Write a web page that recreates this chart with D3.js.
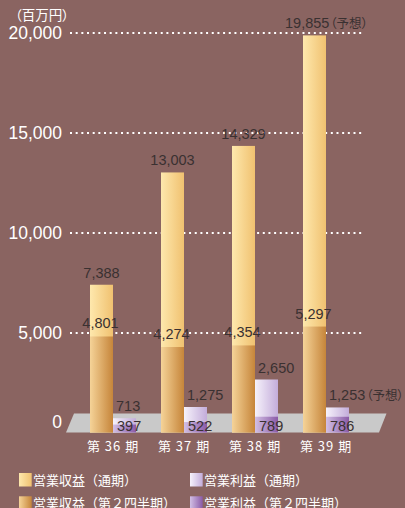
<!DOCTYPE html>
<html>
<head>
<meta charset="utf-8">
<script src="https://cdn.jsdelivr.net/npm/d3@7"></script>
<style>
  html, body { margin: 0; padding: 0; background: #8a6461; }
  svg { display: block; }
  text { font-family: "Liberation Sans", Arial, sans-serif; }
  .jp { font-family: "Noto Sans CJK JP", sans-serif; }
  .palt { font-feature-settings: "palt" 1; }
</style>
</head>
<body>
<svg id="chart" width="405" height="508"></svg>
<script>
// Fiscal periods and results (millions of yen)
const periods = ["第 36 期", "第 37 期", "第 38 期", "第 39 期"];
const revenueFull = [7388, 13003, 14329, 19855];   // 営業収益（通期）
const revenueHalf = [4801, 4274, 4354, 5297];      // 営業収益（第２四半期）
const profitFull  = [713, 1275, 2650, 1253];       // 営業利益（通期）
const profitHalf  = [397, 522, 789, 786];          // 営業利益（第２四半期）
const isForecast  = [false, false, false, true];
const yTicks = [0, 5000, 10000, 15000, 20000];
const unitLabel = "（百万円）";
const forecastNote = "（予想）";
const legendLabels = ["営業収益（通期）", "営業利益（通期）", "営業収益（第２四半期）", "営業利益（第２四半期）"];

const svg = d3.select("#chart");
const defs = svg.append("defs");

// Horizontal gradients giving the bars their cylindrical look
const gradients = {
  revFull:  ["#fee8ad", "#f0c170"],
  revHalf:  ["#f5d398", "#c6853a"],
  profFull: ["#f6f2fb", "#c3acda"],
  profHalf: ["#d2bfe4", "#8a5aa7"]
};
Object.entries(gradients).forEach(([id, [c0, c1]]) => {
  const g = defs.append("linearGradient").attr("id", id)
    .attr("x1", "0%").attr("x2", "100%").attr("y1", "0%").attr("y2", "0%");
  g.append("stop").attr("offset", "0%").attr("stop-color", c0);
  g.append("stop").attr("offset", "100%").attr("stop-color", c1);
});

const y = d3.scaleLinear().domain([0, 20000]).range([432.5, 32.5]);
const x = d3.scaleBand().domain(periods).range([77.5, 361.5]).padding(0);
const barW = 23;
const center = p => x(p) + x.bandwidth() / 2;

// Y axis with dotted gridlines
const yAxis = svg.append("g")
  .attr("transform", "translate(70,0)")
  .call(d3.axisLeft(y).tickValues(yTicks).tickFormat(d3.format(","))
    .tickSize(-293).tickPadding(8));
yAxis.select(".domain").remove();
yAxis.selectAll(".tick line")
  .attr("stroke", "#ffffff").attr("stroke-width", 2)
  .attr("stroke-dasharray", "2,3.67")
  .attr("opacity", d => d === 0 ? 0 : 1);
yAxis.selectAll(".tick text")
  .attr("fill", "#ffffff").attr("font-size", 17.5)
  .attr("font-family", "'Liberation Sans', Arial, sans-serif")
  .attr("dy", d => d === 0 ? "-0.3em" : "0.32em");

// Unit label
svg.append("text").attr("class", "jp palt")
  .attr("x", 15).attr("y", 20)
  .attr("fill", "#ffffff").attr("font-size", 13.5)
  .text(unitLabel);

// Gray floor under the bars
const x0 = x.range()[0], x1 = x.range()[1];
const floorTop = y(0) - 19;
svg.append("polygon")
  .attr("points", [
    [x0 - 3.5, floorTop], [x1 + 25, floorTop],
    [x1 + 17.5, y(0)], [x0 - 11.5, y(0)]
  ].map(p => p.join(",")).join(" "))
  .attr("fill", "#c9c9c9");

// Bars
const bars = svg.append("g");
periods.forEach((p, i) => {
  const xr = center(p) - barW, xp = center(p);
  bars.append("rect").attr("x", xr).attr("width", barW)
    .attr("y", y(revenueFull[i])).attr("height", y(0) - y(revenueFull[i]))
    .attr("fill", "url(#revFull)");
  bars.append("rect").attr("x", xr).attr("width", barW)
    .attr("y", y(revenueHalf[i])).attr("height", y(0) - y(revenueHalf[i]))
    .attr("fill", "url(#revHalf)");
  bars.append("rect").attr("x", xp).attr("width", barW)
    .attr("y", y(profitFull[i])).attr("height", y(0) - y(profitFull[i]))
    .attr("fill", "url(#profFull)");
  bars.append("rect").attr("x", xp).attr("width", barW)
    .attr("y", y(profitHalf[i])).attr("height", y(0) - y(profitHalf[i]))
    .attr("fill", "url(#profHalf)");
});

// Value labels
const fmt = d3.format(",");
const labels = svg.append("g").attr("fill", "#3a3131").attr("font-size", 14.5);
function addLabel(xPos, yPos, anchor, value, note) {
  const t = labels.append("text").attr("x", xPos).attr("y", yPos)
    .attr("text-anchor", anchor).text(fmt(value));
  if (note) {
    t.append("tspan").attr("class", "jp palt").attr("font-size", 12.5).attr("dx", 1).text(note);
  }
}
periods.forEach((p, i) => {
  const xr = center(p) - barW, xp = center(p);
  if (isForecast[i]) {
    addLabel(xr - 18, y(revenueFull[i]) - 7, "start", revenueFull[i], forecastNote);
  } else {
    addLabel(xr + barW / 2, y(revenueFull[i]) - 7, "middle", revenueFull[i]);
  }
  addLabel(xr + barW / 2 - 1, y(revenueHalf[i]) - 8, "middle", revenueHalf[i]);
  addLabel(xp + 3, y(profitFull[i]) - 7, "start", profitFull[i], isForecast[i] ? forecastNote : null);
  addLabel(xp + 4, y(0) - 1.5, "start", profitHalf[i]);
});

// Period axis
const xAxis = svg.append("g")
  .attr("transform", `translate(0,${y(0)})`)
  .call(d3.axisBottom(x).tickSize(0).tickPadding(9));
xAxis.select(".domain").remove();
xAxis.selectAll(".tick text")
  .attr("class", "jp")
  .attr("fill", "#ffffff").attr("font-size", 13)
  .attr("letter-spacing", 1);

// Legend
const legendFills = ["url(#revFull)", "url(#profFull)", "url(#revHalf)", "url(#profHalf)"];
const legend = svg.append("g");
legendLabels.forEach((label, i) => {
  const col = i % 2, row = Math.floor(i / 2);
  const lx = col === 0 ? 19 : 190;
  const ly = 473 + row * 23.3;
  legend.append("rect").attr("x", lx).attr("y", ly)
    .attr("width", 12.7).attr("height", 13.5).attr("fill", legendFills[i]);
  legend.append("text").attr("class", "jp")
    .attr("x", lx + 14).attr("y", ly + 12)
    .attr("fill", "#ffffff").attr("font-size", 13)
    .text(label);
});
</script>
</body>
</html>
